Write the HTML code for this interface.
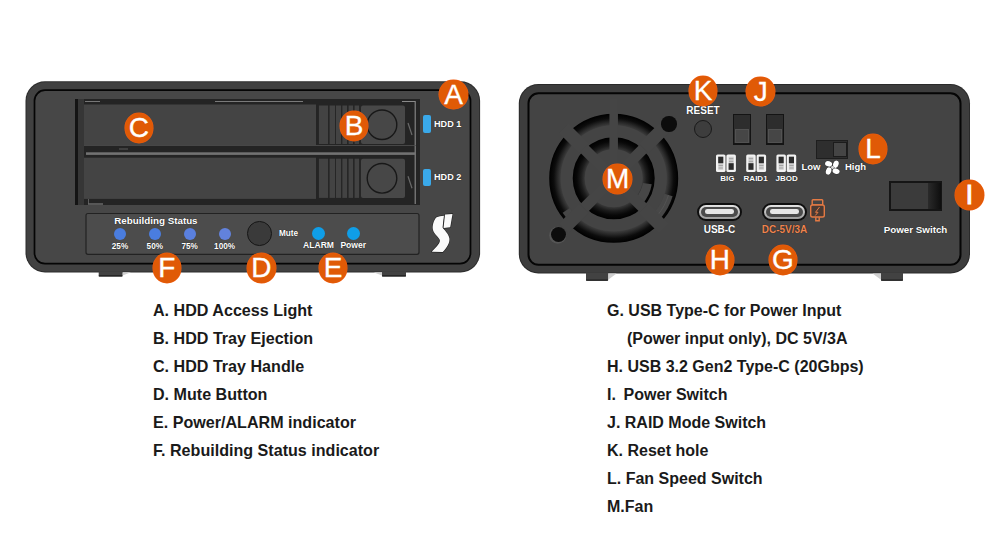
<!DOCTYPE html>
<html><head><meta charset="utf-8">
<style>
*{margin:0;padding:0;box-sizing:border-box}
html,body{width:1000px;height:550px;background:#fff;overflow:hidden}
body{position:relative;font-family:"Liberation Sans",sans-serif}
.a{position:absolute}
.lbl{position:absolute;-webkit-text-stroke:0.3px #fff;width:28.6px;height:29.5px;border-radius:50%;background:#e05a06;color:#fff;font-size:28px;line-height:30.6px;text-align:center;font-weight:normal;box-shadow:0 0 0 0.5px #f25c10}
.desc{position:absolute;font-size:16.1px;font-weight:bold;color:#1a1a1a;white-space:nowrap;line-height:17px}
.wt{position:absolute;color:#fff;font-weight:bold;white-space:nowrap;line-height:1;text-shadow:0 0 1px rgba(0,0,0,0.8)}
</style></head><body>

<!-- LEFT DEVICE -->
<svg class="a" style="left:0;top:0" width="500" height="290" viewBox="0 0 500 290">
<rect x="25.5" y="81.3" width="454.6" height="191.1" rx="19.5" fill="#2c2c2c"/>
<rect x="26.5" y="82.3" width="452.6" height="189.1" rx="18.5" fill="#414141"/>
<rect x="34.5" y="90.2" width="436" height="173.4" rx="10.5" fill="#474747" stroke="#050505" stroke-width="1.7"/>
</svg>
<!-- feet -->
<svg class="a" style="left:0;top:260px" width="1000" height="30" viewBox="0 260 1000 30"><path d="M122.5 272.2 L131.0 272.2 L122.5 275.6Z" fill="#cfcfcf"/><path d="M98.7 271.2 H122.5 V275.40000000000003 Q122.5 276.6 120.5 276.6 H100.7 Q98.7 276.6 98.7 275.40000000000003Z" fill="#424242"/><rect x="98.7" y="275.3" width="23.799999999999997" height="1.3" rx="0.6" fill="#1e1e1e"/><path d="M382 272.2 L373.5 272.2 L382 275.6Z" fill="#cfcfcf"/><path d="M382 271.2 H406 V275.40000000000003 Q406 276.6 404 276.6 H384 Q382 276.6 382 275.40000000000003Z" fill="#424242"/><rect x="382" y="275.3" width="24" height="1.3" rx="0.6" fill="#1e1e1e"/></svg>

<!-- tray frame -->
<svg class="a" style="left:0;top:0" width="500" height="280" viewBox="0 0 500 280">
<rect x="75" y="99" width="345" height="106" fill="#242424"/>
<rect x="75" y="99" width="3" height="106" fill="#141414"/><rect x="78" y="99" width="6" height="106" fill="#363636"/>
<path d="M402 101.5 H415.2 V204" fill="none" stroke="#8a8a8a" stroke-width="1.1"/>
<path d="M85 101.5 H100" stroke="#777" stroke-width="1"/>
<path d="M215 101.5 H303" stroke="#7a7a7a" stroke-width="1"/>
<rect x="84" y="104.5" width="232" height="40.5" fill="#444"/>
<rect x="318" y="105.5" width="43" height="38.5" fill="#262626"/>
<rect x="319" y="105.5" width="9" height="38.5" fill="#434343"/>
<rect x="329.6" y="105.5" width="5.4" height="38.5" fill="#434343"/>
<rect x="336" y="105.5" width="5" height="38.5" fill="#434343"/>
<rect x="342.4" y="105.5" width="4.6" height="38.5" fill="#434343"/>
<rect x="348.6" y="105.5" width="4.4" height="38.5" fill="#434343"/>
<rect x="354.6" y="105.5" width="4.4" height="38.5" fill="#434343"/>
<rect x="361" y="105.5" width="44" height="38.5" rx="2" fill="#484848"/>
<circle cx="382" cy="124.75" r="14.8" fill="#474747" stroke="#181818" stroke-width="1.4"/>
<path d="M408 123.0 L412 135.0" stroke="#6a6a6a" stroke-width="1.2"/>
<rect x="86" y="152.3" width="329" height="2.6" fill="#727272"/><rect x="84" y="145" width="332" height="0.8" fill="#505050"/>
<rect x="119" y="148.5" width="9" height="1" fill="#5a5a5a"/>
<rect x="84" y="157.7" width="232" height="41.2" fill="#444"/>
<rect x="318" y="158.7" width="43" height="39.2" fill="#262626"/>
<rect x="319" y="158.7" width="9" height="39.2" fill="#434343"/>
<rect x="329.6" y="158.7" width="5.4" height="39.2" fill="#434343"/>
<rect x="336" y="158.7" width="5" height="39.2" fill="#434343"/>
<rect x="342.4" y="158.7" width="4.6" height="39.2" fill="#434343"/>
<rect x="348.6" y="158.7" width="4.4" height="39.2" fill="#434343"/>
<rect x="354.6" y="158.7" width="4.4" height="39.2" fill="#434343"/>
<rect x="361" y="158.7" width="44" height="39.2" rx="2" fill="#484848"/>
<circle cx="382" cy="178.29999999999998" r="14.8" fill="#474747" stroke="#181818" stroke-width="1.4"/>
<path d="M408 176.2 L412 188.2" stroke="#6a6a6a" stroke-width="1.2"/>
<rect x="88" y="203.5" width="15" height="1" fill="#8a8a8a"/><path d="M88.5 199 V204" stroke="#6a6a6a" stroke-width="0.8"/>
</svg>
<!-- HDD LEDs -->
<div class="a" style="left:423px;top:115px;width:8px;height:18px;border-radius:2px;background:#3aa9ea"></div>
<div class="wt" style="left:434px;top:119.8px;font-size:9.1px">HDD 1</div>
<div class="a" style="left:423px;top:169px;width:8px;height:17px;border-radius:2px;background:#3aa9ea"></div>
<div class="wt" style="left:434px;top:172.8px;font-size:9.1px">HDD 2</div>

<!-- status panel -->
<svg class="a" style="left:0;top:200px" width="500" height="60" viewBox="0 200 500 60">
<rect x="86" y="213.5" width="333" height="40.8" rx="2" fill="#4c4c4c" stroke="#222" stroke-width="1.2"/>
</svg>
<div class="wt" style="left:114.3px;top:215.6px;font-size:9.8px">Rebuilding Status</div>


<!-- status LEDs -->
<div class="a" style="left:114px;top:227.6px;width:12px;height:12px;border-radius:50%;background:#4a7ddf"></div>
<div class="a" style="left:148.8px;top:227.6px;width:12px;height:12px;border-radius:50%;background:#4a7ddf"></div>
<div class="a" style="left:183.7px;top:227.6px;width:12px;height:12px;border-radius:50%;background:#5a80df"></div>
<div class="a" style="left:218.6px;top:227.6px;width:12px;height:12px;border-radius:50%;background:#6282dc"></div>
<div class="wt" style="left:100px;width:40px;text-align:center;top:243px;font-size:8.2px">25%</div>
<div class="wt" style="left:134.8px;width:40px;text-align:center;top:243px;font-size:8.2px">50%</div>
<div class="wt" style="left:169.7px;width:40px;text-align:center;top:243px;font-size:8.2px">75%</div>
<div class="wt" style="left:204.6px;width:40px;text-align:center;top:243px;font-size:8.2px">100%</div>
<!-- mute -->
<div class="a" style="left:247px;top:221.4px;width:24.6px;height:24.6px;border-radius:50%;background:#3a3a3a;border:1.6px solid #161616"></div>
<div class="wt" style="left:279px;top:229.7px;font-size:8.2px">Mute</div>
<div class="a" style="left:311.9px;top:227px;width:13px;height:13px;border-radius:50%;background:#0f9ee8"></div>
<div class="a" style="left:347.1px;top:227px;width:13px;height:13px;border-radius:50%;background:#0f9ee8"></div>
<div class="wt" style="left:293.5px;width:50px;text-align:center;top:241.3px;font-size:8.6px">ALARM</div>
<div class="wt" style="left:328.3px;width:50px;text-align:center;top:241.3px;font-size:8.6px">Power</div>

<!-- logo -->
<svg class="a" style="left:428px;top:210px" width="30" height="45" viewBox="0 0 367 550">
<g fill="#fafafa" stroke="#1e1e1e" stroke-width="14" stroke-linejoin="round" paint-order="stroke">
<path d="M105,88 C130,78 160,72 195,70 L178,215 C195,240 250,290 262,345 C270,400 230,460 180,515 L45,510 C90,465 150,410 145,370 C140,335 75,300 60,240 C50,190 70,120 105,88 Z"/>
<path d="M208,55 L300,48 L272,212 L190,220 Z"/>
</g>
</svg>

<!-- RIGHT DEVICE -->
<svg class="a" style="left:500px;top:0" width="500" height="290" viewBox="500 0 500 290">
<rect x="518.8" y="84" width="451.2" height="189.5" rx="19.5" fill="#2a2a2a"/>
<rect x="519.8" y="85" width="449.2" height="187.5" rx="18.5" fill="#3d3d3d"/>
<rect x="528.5" y="93.3" width="432" height="171.5" rx="10" fill="#444" stroke="#050505" stroke-width="2"/>
</svg>
<svg class="a" style="left:0;top:260px" width="1000" height="30" viewBox="0 260 1000 30"><path d="M608.1 273.5 L616.6 273.5 L608.1 279.8Z" fill="#cfcfcf"/><path d="M586 272.5 H608.1 V279.6 Q608.1 280.8 606.1 280.8 H588 Q586 280.8 586 279.6Z" fill="#424242"/><rect x="586" y="279.5" width="22.100000000000023" height="1.3" rx="0.6" fill="#1e1e1e"/><path d="M881 273.5 L872.5 273.5 L881 279.8Z" fill="#cfcfcf"/><path d="M881 272.5 H903 V279.6 Q903 280.8 901 280.8 H883 Q881 280.8 881 279.6Z" fill="#424242"/><rect x="881" y="279.5" width="22" height="1.3" rx="0.6" fill="#1e1e1e"/></svg>


<!-- fan grille -->
<svg class="a" style="left:536px;top:99px" width="160" height="160" viewBox="-77.7 -79.3 160 160">
  <defs>
    <radialGradient id="go" gradientUnits="userSpaceOnUse" cx="0" cy="0" r="64.5">
      <stop offset="0.82" stop-color="#3e3e3e"/>
      <stop offset="0.875" stop-color="#262626"/>
      <stop offset="0.93" stop-color="#0c0c0c"/>
      <stop offset="1" stop-color="#000"/>
    </radialGradient>
    <radialGradient id="gi" gradientUnits="userSpaceOnUse" cx="0" cy="0" r="41">
      <stop offset="0.70" stop-color="#3a3a3a"/>
      <stop offset="0.80" stop-color="#1c1c1c"/>
      <stop offset="0.90" stop-color="#080808"/>
      <stop offset="1" stop-color="#000"/>
    </radialGradient>
  </defs>
  <circle r="58.75" fill="none" stroke="url(#go)" stroke-width="11.5"/>
  <circle r="35" fill="none" stroke="url(#gi)" stroke-width="12"/>
  <path d="M54.80 16.75 A57.3 57.3 0 0 1 43.89 36.83" fill="none" stroke="#474747" stroke-width="8.6"/>
  <path d="M54.80 16.75 A57.3 57.3 0 0 1 43.89 36.83" fill="none" stroke="#555" stroke-width="0.8" transform="rotate(0)"/>
  <path d="M33.58 5.32 A34 34 0 0 1 25.27 22.75" fill="none" stroke="#474747" stroke-width="9"/>
  <path d="M-41.22 39.80 A57.3 57.3 0 0 1 -47.50 32.04" fill="none" stroke="#464646" stroke-width="8.6"/>
  <g stroke="#454545" stroke-width="11">
    <line x1="0" y1="0" x2="30" y2="30"/>
    <line x1="0" y1="0" x2="-30" y2="30"/>
    <line x1="0" y1="0" x2="30" y2="-30"/>
    <line x1="0" y1="0" x2="-30" y2="-30"/>
  </g>
  <g stroke="#454545" stroke-width="13.5">
    <line x1="30" y1="30" x2="50" y2="50"/>
    <line x1="-30" y1="30" x2="-50" y2="50"/>
    <line x1="30" y1="-30" x2="50" y2="-50"/>
    <line x1="-30" y1="-30" x2="-50" y2="-50"/>
  </g>
  <line x1="0" y1="0" x2="0" y2="-80" stroke="#454545" stroke-width="8.5"/>
</svg>
<div class="a" style="left:661.4px;top:116.4px;width:15.2px;height:15.2px;border-radius:50%;background:#0c0c0c"></div>
<div class="a" style="left:550.8px;top:226.9px;width:15.2px;height:15.2px;border-radius:50%;background:#0c0c0c;box-shadow:-0.8px 0.8px 0 1px #555"></div>
<!-- reset -->
<div class="wt" style="left:678px;width:50px;text-align:center;top:106.2px;font-size:10px">RESET</div>
<div class="a" style="left:694px;top:119.5px;width:18px;height:18px;border-radius:50%;background:#3d3d3d;border:1.5px solid #1a1a1a"></div>
<!-- J switches -->
<div class="a" style="left:733px;top:113.7px;width:18px;height:31.7px;background:#2d2d2d;border:1.4px solid #141414;border-bottom-width:2px"></div>
<div class="a" style="left:734.9px;top:129px;width:14.4px;height:14.1px;background:#464646;border:0.8px solid #525252"></div>
<div class="a" style="left:765.8px;top:113.7px;width:18px;height:31.7px;background:#2d2d2d;border:1.4px solid #141414;border-bottom-width:2px"></div>
<div class="a" style="left:767.7px;top:129px;width:14.4px;height:14.1px;background:#464646;border:0.8px solid #525252"></div>
<!-- DIP icons -->
<svg class="a" style="left:714px;top:152px" width="86" height="22" viewBox="714 152 86 22">
<rect x="716" y="154.5" width="9.5" height="17.5" rx="1.6" fill="#f2f2f2"/>
<rect x="718.2" y="156.7" width="5.1" height="13.1" fill="#cfcfcf"/>
<rect x="718.2" y="156.7" width="5.1" height="6.5" fill="#2c2c2c"/>
<rect x="718.6" y="165" width="4.3" height="0.8" fill="#9a9a9a"/>
<rect x="718.6" y="167.6" width="4.3" height="0.8" fill="#9a9a9a"/>
<rect x="726.4" y="154.5" width="9.5" height="17.5" rx="1.6" fill="#f2f2f2"/>
<rect x="728.6" y="156.7" width="5.1" height="13.1" fill="#cfcfcf"/>
<rect x="728.6" y="163.2" width="5.1" height="6.6" fill="#2c2c2c"/>
<rect x="729.0" y="158.3" width="4.3" height="0.8" fill="#9a9a9a"/>
<rect x="729.0" y="160.9" width="4.3" height="0.8" fill="#9a9a9a"/>
<rect x="746.2" y="154.5" width="9.5" height="17.5" rx="1.6" fill="#f2f2f2"/>
<rect x="748.4000000000001" y="156.7" width="5.1" height="13.1" fill="#cfcfcf"/>
<rect x="748.4000000000001" y="163.2" width="5.1" height="6.6" fill="#2c2c2c"/>
<rect x="748.8000000000001" y="158.3" width="4.3" height="0.8" fill="#9a9a9a"/>
<rect x="748.8000000000001" y="160.9" width="4.3" height="0.8" fill="#9a9a9a"/>
<rect x="756.6" y="154.5" width="9.5" height="17.5" rx="1.6" fill="#f2f2f2"/>
<rect x="758.8000000000001" y="156.7" width="5.1" height="13.1" fill="#cfcfcf"/>
<rect x="758.8000000000001" y="156.7" width="5.1" height="6.5" fill="#2c2c2c"/>
<rect x="759.2" y="165" width="4.3" height="0.8" fill="#9a9a9a"/>
<rect x="759.2" y="167.6" width="4.3" height="0.8" fill="#9a9a9a"/>
<rect x="776.4" y="154.5" width="9.5" height="17.5" rx="1.6" fill="#f2f2f2"/>
<rect x="778.6" y="156.7" width="5.1" height="13.1" fill="#cfcfcf"/>
<rect x="778.6" y="156.7" width="5.1" height="6.5" fill="#2c2c2c"/>
<rect x="779.0" y="165" width="4.3" height="0.8" fill="#9a9a9a"/>
<rect x="779.0" y="167.6" width="4.3" height="0.8" fill="#9a9a9a"/>
<rect x="786.7" y="154.5" width="9.5" height="17.5" rx="1.6" fill="#f2f2f2"/>
<rect x="788.9000000000001" y="156.7" width="5.1" height="13.1" fill="#cfcfcf"/>
<rect x="788.9000000000001" y="156.7" width="5.1" height="6.5" fill="#2c2c2c"/>
<rect x="789.3000000000001" y="165" width="4.3" height="0.8" fill="#9a9a9a"/>
<rect x="789.3000000000001" y="167.6" width="4.3" height="0.8" fill="#9a9a9a"/>
</svg>
<div class="wt" style="left:712.3px;width:30px;text-align:center;top:175.3px;font-size:8px">BIG</div>
<div class="wt" style="left:740.6px;width:30px;text-align:center;top:175.3px;font-size:8px">RAID1</div>
<div class="wt" style="left:771.6px;width:30px;text-align:center;top:175.3px;font-size:8px">JBOD</div>
<!-- fan speed switch -->
<div class="a" style="left:816px;top:140px;width:32px;height:18.5px;background:#2e2e2e;border:1px solid #1e1e1e"></div>
<div class="a" style="left:832.5px;top:141.5px;width:14px;height:15.5px;background:#454545;border:1px solid #1c1c1c"></div>
<div class="wt" style="left:801.5px;top:162px;font-size:9.5px">Low</div>
<svg class="a" style="left:824px;top:158.5px" width="17" height="17" viewBox="-8.5 -8.5 17 17">
  <g fill="#fff" stroke="#222" stroke-width="0.6" paint-order="stroke">
    <ellipse cx="-3.9" cy="-3.7" rx="3.6" ry="2.7" transform="rotate(18 -3.9 -3.7)"/>
    <ellipse cx="3.4" cy="-3.3" rx="2.7" ry="3.7" transform="rotate(18 3.4 -3.3)"/>
    <ellipse cx="-3.9" cy="3.5" rx="2.7" ry="3.7" transform="rotate(18 -3.9 3.5)"/>
    <ellipse cx="3.6" cy="3.7" rx="3.6" ry="2.7" transform="rotate(18 3.6 3.7)"/>
  </g>
  <circle r="1.4" fill="#ddd"/>
</svg>
<div class="wt" style="left:845px;top:162px;font-size:9.5px">High</div>
<!-- power switch -->
<div class="a" style="left:889px;top:181px;width:53px;height:29.5px;background:#151515"></div>
<div class="a" style="left:890.5px;top:182.5px;width:37px;height:26.5px;background:#3b3b3b"></div>
<div class="a" style="left:927.5px;top:182.5px;width:13px;height:26.5px;background:linear-gradient(90deg,#2a2a2a,#0e0e0e)"></div>
<div class="wt" style="left:875px;width:81px;text-align:center;top:225.2px;font-size:9.8px">Power Switch</div>
<!-- usb ports -->
<div class="a" style="left:697.4px;top:203.4px;width:44.2px;height:17.4px;border-radius:9px;background:#0e0e0e"></div>
<div class="a" style="left:698.8px;top:204.8px;width:41.4px;height:14.6px;border-radius:7.5px;background:linear-gradient(180deg,#e4e4e4,#9a9a9a)"></div>
<div class="a" style="left:701.0px;top:207px;width:37px;height:10.2px;border-radius:5.2px;background:#4a4a4a"></div>
<div class="a" style="left:705.4px;top:209.3px;width:28.5px;height:4.6px;border-radius:2.3px;background:#e6e6e6"></div>
<div class="wt" style="left:694.5px;width:50px;text-align:center;top:225px;font-size:10px">USB-C</div>
<div class="a" style="left:762.4px;top:203.4px;width:44.2px;height:17.4px;border-radius:9px;background:#0e0e0e"></div>
<div class="a" style="left:763.8px;top:204.8px;width:41.4px;height:14.6px;border-radius:7.5px;background:linear-gradient(180deg,#e4e4e4,#9a9a9a)"></div>
<div class="a" style="left:766.0px;top:207px;width:37px;height:10.2px;border-radius:5.2px;background:#4a4a4a"></div>
<div class="a" style="left:770.4px;top:209.3px;width:28.5px;height:4.6px;border-radius:2.3px;background:#e6e6e6"></div>
<div class="wt" style="left:754.5px;width:60px;text-align:center;top:225px;font-size:10px;color:#ee8450">DC-5V/3A</div>
<svg class="a" style="left:808px;top:197px" width="20" height="26" viewBox="808 197 20 26">
  <g fill="none" stroke="#e47a44" stroke-width="1.4">
    <rect x="812.2" y="199.7" width="10.5" height="5.3" rx="0.8"/>
    <rect x="810.7" y="205" width="13.6" height="12" rx="1.8" fill="#4a3a33"/>
    <path d="M815.8 217.2 v3.5 h3.4 v-3.5"/>
  </g>
  <path d="M819.5 207 L815.5 212.3 L818 212.3 L815.3 215.5" fill="none" stroke="#e47a44" stroke-width="1"/>
</svg>

<!-- LABEL CIRCLES -->
<div class="lbl" style="left:439.2px;top:79.6px">A</div>
<div class="lbl" style="left:339.70px;top:111.25px">B</div>
<div class="lbl" style="left:124.70px;top:113.25px">C</div>
<div class="lbl" style="left:247.10px;top:253.25px">D</div>
<div class="lbl" style="left:318.70px;top:253.25px">E</div>
<div class="lbl" style="left:152.50px;top:253.25px">F</div>
<div class="lbl" style="left:768.70px;top:245.25px">G</div>
<div class="lbl" style="left:705.70px;top:245.25px">H</div>
<div class="lbl" style="left:955.10px;top:180.25px;-webkit-text-stroke:0.9px #fff">I</div>
<div class="lbl" style="left:746.40px;top:76.6px">J</div>
<div class="lbl" style="left:688.70px;top:76px">K</div>
<div class="lbl" style="left:858.70px;top:134.05px">L</div>
<div class="lbl" style="left:603.4px;top:164.4px">M</div>

<!-- DESCRIPTIONS -->
<div class="desc" style="left:153px;top:302px">A. HDD Access Light</div>
<div class="desc" style="left:153px;top:330px">B. HDD Tray Ejection</div>
<div class="desc" style="left:153px;top:358px">C. HDD Tray Handle</div>
<div class="desc" style="left:153px;top:386px">D. Mute Button</div>
<div class="desc" style="left:153px;top:414px">E. Power/ALARM indicator</div>
<div class="desc" style="left:153px;top:442px">F. Rebuilding Status indicator</div>

<div class="desc" style="left:607px;top:302px;font-size:16px">G. USB Type-C for Power Input</div>
<div class="desc" style="left:627px;top:330px;font-size:16px">(Power input only), DC 5V/3A</div>
<div class="desc" style="left:607px;top:358px;font-size:16px">H. USB 3.2 Gen2 Type-C (20Gbps)</div>
<div class="desc" style="left:607px;top:386px;font-size:16px">I.<span style="margin-left:7.6px">Power Switch</span></div>
<div class="desc" style="left:607px;top:414px;font-size:16px">J. RAID Mode Switch</div>
<div class="desc" style="left:607px;top:442px;font-size:16px">K. Reset hole</div>
<div class="desc" style="left:607px;top:470px;font-size:16px">L. Fan Speed Switch</div>
<div class="desc" style="left:607px;top:498px;font-size:16px">M.Fan</div>

</body></html>
